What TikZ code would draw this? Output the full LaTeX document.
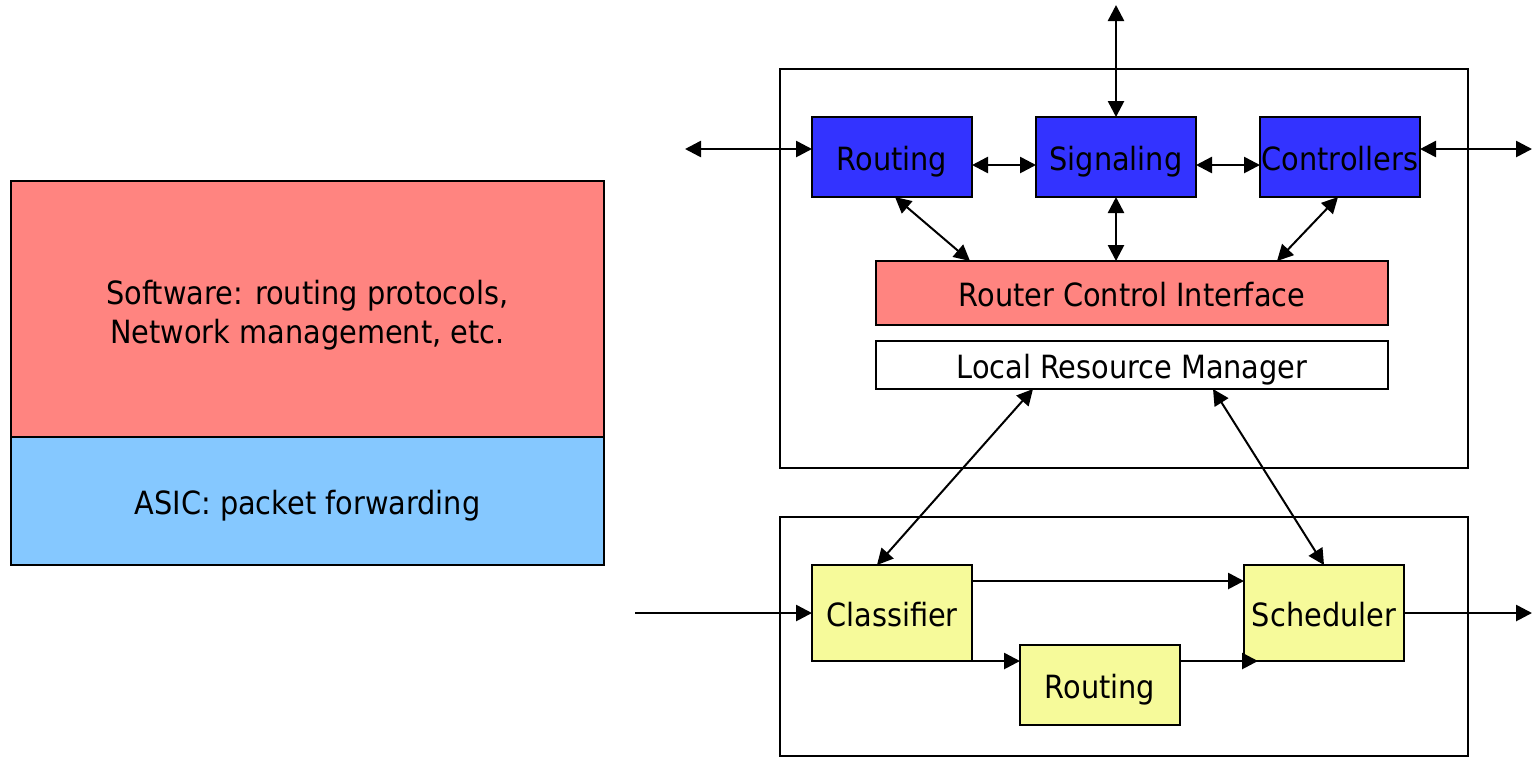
\documentclass[tikz,border=0pt]{standalone}
\usepackage{fontspec}
\setmainfont{DejaVu Sans Condensed}
\usetikzlibrary{arrows.meta,calc}
\definecolor{ctlblue}{HTML}{3333FF}
\definecolor{swpink}{HTML}{FF8480}
\definecolor{asicblue}{HTML}{85C8FF}
\definecolor{fwdyellow}{HTML}{F6FA9A}
\tikzset{
  txt/.style={inner sep=0pt, outer sep=0pt,
    font=\fontsize{16}{19.5}\selectfont, align=center},
  box/.style={txt, draw=black, line width=1.3pt,
    text height=16pt, text depth=3pt},
  plainbox/.style={draw=black, line width=1.3pt, inner sep=0pt, outer sep=0pt},
  conn/.style={line width=1.3pt, -{Triangle[length=8pt,width=8pt]}},
  biconn/.style={line width=1.3pt, {Triangle[length=8pt,width=8pt]}-{Triangle[length=8pt,width=8pt]}},
  thinbi/.style={line width=1pt, {Triangle[length=8pt,width=8pt]}-{Triangle[length=8pt,width=8pt]}}
}
\begin{document}
\begin{tikzpicture}[x=0.5pt,y=-0.5pt]
  \useasboundingbox (0,0) rectangle (1534,757);

  % layered view of a router
  \node[plainbox, fill=swpink, minimum width=296.5pt, minimum height=128pt] (soft) at (307.5,309) {};
  \node[txt] (softtxt) at ([yshift=-3pt]soft.center) {Software: routing protocols,\\Network management, etc.};
  \node[box, fill=asicblue, minimum width=296.5pt, minimum height=64pt] (asic) at (307.5,501)
    {ASIC: packet forwarding};

  % control plane and forwarding plane frames
  \node[plainbox, minimum width=344pt, minimum height=199.5pt] (ctlframe) at (1124,268.5) {};
  \node[plainbox, minimum width=344pt, minimum height=119.5pt] (fwdframe) at (1124,636.5) {};

  % control plane modules
  \node[box, fill=ctlblue, minimum width=80pt, minimum height=40pt] (routc) at (892,157) {Routing};
  \node[box, fill=ctlblue, minimum width=80pt, minimum height=40pt] (signal) at (1116,157) {Signaling};
  \node[box, fill=ctlblue, minimum width=80pt, minimum height=40pt] (ctrl) at (1340,157) {Controllers};
  \node[box, fill=swpink, minimum width=256pt, minimum height=32pt] (rci) at (1132,293) {Router Control Interface};
  \node[box, fill=white, minimum width=256pt, minimum height=24pt] (lrm) at (1132,365) {Local Resource Manager};

  % forwarding plane modules
  \node[box, fill=fwdyellow, minimum width=80pt, minimum height=48pt] (classif) at (892,613) {Classifier};
  \node[box, fill=fwdyellow, minimum width=80pt, minimum height=48pt] (sched) at (1324,613) {Scheduler};
  \node[box, fill=fwdyellow, minimum width=80pt, minimum height=40pt] (routf) at (1100,685) {Routing};

  % free ends of external connectors
  \coordinate (extL) at (685,149);
  \coordinate (extR) at (1532,149);
  \coordinate (extT) at (1116,5);
  \coordinate (pktin) at (635,613);
  \coordinate (pktout) at (1532,613);

  % control plane connectors
  \draw[biconn] (extL) -- (extL -| routc.west);
  \draw[biconn] (ctrl.east |- extR) -- (extR);
  \draw[biconn] (signal.north) -- (extT);
  \draw[biconn] ([yshift=-4pt]routc.east) -- ([yshift=-4pt]signal.west);
  \draw[biconn] ([yshift=-4pt]signal.east) -- ([yshift=-4pt]ctrl.west);
  \draw[thinbi] ([xshift=1.5pt]routc.south) -- ([xshift=-81pt]rci.north);
  \draw[biconn] (signal.south) -- (signal.south |- rci.north);
  \draw[thinbi] ([xshift=-1pt]ctrl.south) -- ([xshift=72.5pt]rci.north);

  % resource manager to forwarding plane
  \draw[thinbi] ([xshift=-49.5pt]lrm.south) -- ([xshift=-7.5pt]classif.north);
  \draw[thinbi] ([xshift=40.5pt]lrm.south) -- (sched.north);

  % forwarding path
  \draw[conn] (pktin) -- (classif.west);
  \draw[conn] ([yshift=16pt]classif.east) -- ([yshift=16pt]sched.west);
  \draw[conn] (classif.south east) -- (classif.south east -| routf.west);
  \draw[conn] (routf.east |- classif.south) -- ([xshift=7pt]sched.south west);
  \draw[conn] (sched.east) -- (pktout);
\end{tikzpicture}
\end{document}
